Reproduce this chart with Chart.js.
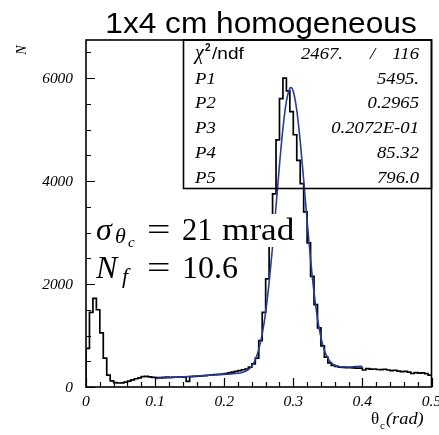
<!DOCTYPE html>
<html><head><meta charset="utf-8">
<script src="https://cdn.jsdelivr.net/npm/chart.js@4/dist/chart.umd.min.js"></script>
<style>html,body{margin:0;padding:0;background:#fff;overflow:hidden}</style>
</head><body>
<canvas id="c" width="439" height="435" style="display:block;width:439px;height:435px"></canvas>
<script>
// ---- data ----
const binWidth = 0.005;
const histCounts = [
  750,1450,1720,1500,1050,560,230,120,85,78,
  82,95,115,140,160,178,200,205,195,188,
  185,182,188,190,186,192,190,195,193,110,
  200,205,210,215,222,228,235,240,244,250,
  262,275,290,305,318,335,350,385,450,560,
  900,1450,2100,2900,3750,4800,5600,6000,5750,5350,
  4900,4400,3950,3400,2800,2150,1600,1150,800,580,
  470,420,400,385,380,375,378,372,368,365,
  330,355,348,350,340,336,345,330,320,325,
  310,300,305,290,262,280,270,275,258,230
];
const fitX = [0.10,0.12,0.14,0.16,0.18,0.20,0.21,0.22,0.225,0.23,0.235,0.24,0.245,0.25,0.255,0.26,0.265,0.27,0.275,0.28,0.285,0.29,0.295,0.2965,0.30,0.305,0.31,0.315,0.32,0.325,0.33,0.335,0.34,0.345,0.35,0.355,0.36,0.365,0.37,0.38,0.39,0.40];
const fitY = [165,181,197,213,229,245,253,266,278,300,339,410,530,727,1027,1456,2026,2725,3511,4310,5023,5547,5801,5816,5741,5380,4776,4025,3229,2478,1835,1330,963,715,560,470,422,399,390,389,396,404];
const xTickValues = [0,0.1,0.2,0.3,0.4,0.5];
const xTickLabels = ['0','0.1','0.2','0.3','0.4','0.5'];
const yTickValues = [0,2000,4000,6000];
const yTickLabels = ['0','2000','4000','6000'];
const statNames = ['P1','P2','P3','P4','P5'];
const statValues = ['5495.','0.2965','0.2072E-01','85.32','796.0'];
const chi2Value = '2467.';
const ndfValue = '116';
const titleText = '1x4 cm homogeneous';

// ---- build datasets ----
const histPoints = [{x:0,y:0}];
histCounts.forEach((v,i)=>histPoints.push({x:i*binWidth,y:v}));
histPoints.push({x:histCounts.length*binWidth,y:histCounts[histCounts.length-1]});
const fitPoints = fitX.map((x,i)=>({x:x,y:fitY[i]}));

const SERIF = '"Liberation Serif","DejaVu Serif",serif';
const SANS = '"Liberation Sans","DejaVu Sans",sans-serif';

function txt(ctx, s, x, y, font, align, sx){
  ctx.save();
  ctx.font = font;
  ctx.textAlign = align || 'left';
  ctx.textBaseline = 'alphabetic';
  ctx.translate(x,y);
  if (sx) ctx.scale(sx,1);
  ctx.fillText(s,0,0);
  ctx.restore();
}

const decor = {
  id:'decor',
  afterDraw(chart){
    const ctx = chart.ctx, a = chart.chartArea;
    const xs = chart.scales.x, ys = chart.scales.y;
    ctx.save();
    ctx.fillStyle = '#000';
    ctx.strokeStyle = '#000';
    // frame
    ctx.lineWidth = 1.6;
    ctx.strokeRect(a.left, a.top, a.right-a.left, a.bottom-a.top);
    // ticks
    ctx.lineWidth = 1.2;
    ctx.beginPath();
    for (let v=0; v<=ys.max; v+=500){
      const py = Math.round(ys.getPixelForValue(v))+0.5;
      const len = (v%2000===0)?9:5;
      ctx.moveTo(a.left, py); ctx.lineTo(a.left+len, py);
    }
    for (let k=0; k<=25; k++){
      const v = k*0.02;
      const px = Math.round(xs.getPixelForValue(v))+0.5;
      const len = (k%5===0)?9:5;
      ctx.moveTo(px, a.bottom); ctx.lineTo(px, a.bottom-len);
    }
    ctx.stroke();
    // tick labels
    yTickValues.forEach((v,i)=>{
      txt(ctx, yTickLabels[i], a.left-13, ys.getPixelForValue(v)+4.5, 'italic 14px '+SERIF, 'right', 1.1);
    });
    xTickValues.forEach((v,i)=>{
      txt(ctx, xTickLabels[i], xs.getPixelForValue(v), a.bottom+19, 'italic 14px '+SERIF, 'center', 1.12);
    });
    // axis titles
    ctx.save();
    ctx.translate(26, 50);
    ctx.rotate(-Math.PI/2);
    txt(ctx, 'N', 0, 0, 'italic 14px '+SERIF, 'center');
    ctx.restore();
    txt(ctx, '\u03B8', 371, 424, '17px '+SERIF, 'left');
    txt(ctx, 'c', 380, 429, '11px '+SERIF, 'left');
    txt(ctx, '(rad)', 386, 424, 'italic 17px '+SERIF, 'left', 1.08);
    // title
    txt(ctx, titleText, 261, 33, '30px '+SANS, 'center', 1.055);
    // stats box
    const bx = 183.5, by = a.top, bw = a.right-bx, bh = 188.5-a.top;
    ctx.lineWidth = 1.6;
    ctx.strokeRect(bx, by, bw, bh);
    const valRight = 419;
    const SF = 'italic 17px '+SERIF, SX = 1.1;
    txt(ctx, '\u03C7', 195, 59, 'italic 20px '+SERIF, 'left');
    txt(ctx, '2', 205, 51, 'bold 10px '+SANS, 'left');
    txt(ctx, '/ndf', 212, 59, '17px '+SANS, 'left', 1.12);
    txt(ctx, chi2Value, 343, 59, SF, 'right', SX);
    txt(ctx, '/', 372.5, 59, SF, 'center', SX);
    txt(ctx, ndfValue, valRight, 59, SF, 'right', SX);
    const rowY = [83.5,108.3,133.3,158.3,183.3];
    statNames.forEach((n,i)=>{
      txt(ctx, n, 195, rowY[i], SF, 'left', SX);
      txt(ctx, statValues[i], valRight, rowY[i], SF, 'right', SX);
    });
    // annotation with white background
    ctx.fillStyle = '#fff';
    ctx.fillRect(93, 214, 184, 33);
    ctx.fillStyle = '#000';
    const BF = '32px '+SERIF;
    txt(ctx, '\u03C3', 96, 240, 'italic 32px '+SERIF, 'left');
    txt(ctx, '\u03B8', 115, 243, 'italic 22px '+SERIF, 'left');
    txt(ctx, 'c', 128, 247, 'italic 15px '+SERIF, 'left');
    txt(ctx, '=', 147, 240, BF, 'left', 1.3);
    txt(ctx, '21', 182, 240, BF, 'left', 0.95);
    txt(ctx, 'mrad', 222, 240, BF, 'left', 1.1);
    txt(ctx, 'N', 96, 278, 'italic 32px '+SERIF, 'left');
    txt(ctx, 'f', 122, 283, 'italic 22px '+SERIF, 'left');
    txt(ctx, '=', 147, 278, BF, 'left', 1.3);
    txt(ctx, '10.6', 182, 278, BF, 'left', 1.0);
    ctx.restore();
  }
};

new Chart(document.getElementById('c'), {
  type:'scatter',
  data:{datasets:[
    {label:'fit', data:fitPoints, showLine:true, borderColor:'#2a3c9e', borderWidth:1.6, pointRadius:0, cubicInterpolationMode:'monotone', order:0, fill:false},
    {label:'hist', data:histPoints, showLine:true, stepped:'before', borderColor:'#000', borderWidth:1.7, pointRadius:0, order:1, fill:false}
  ]},
  options:{
    responsive:false, animation:false, devicePixelRatio:1,
    layout:{padding:{left:86, top:40, right:7.5, bottom:48}},
    plugins:{legend:{display:false}, tooltip:{enabled:false}, title:{display:false}},
    scales:{
      x:{type:'linear', min:0, max:0.5, display:false},
      y:{type:'linear', min:0, max:6740, display:false}
    }
  },
  plugins:[decor]
});
</script>
</body></html>
